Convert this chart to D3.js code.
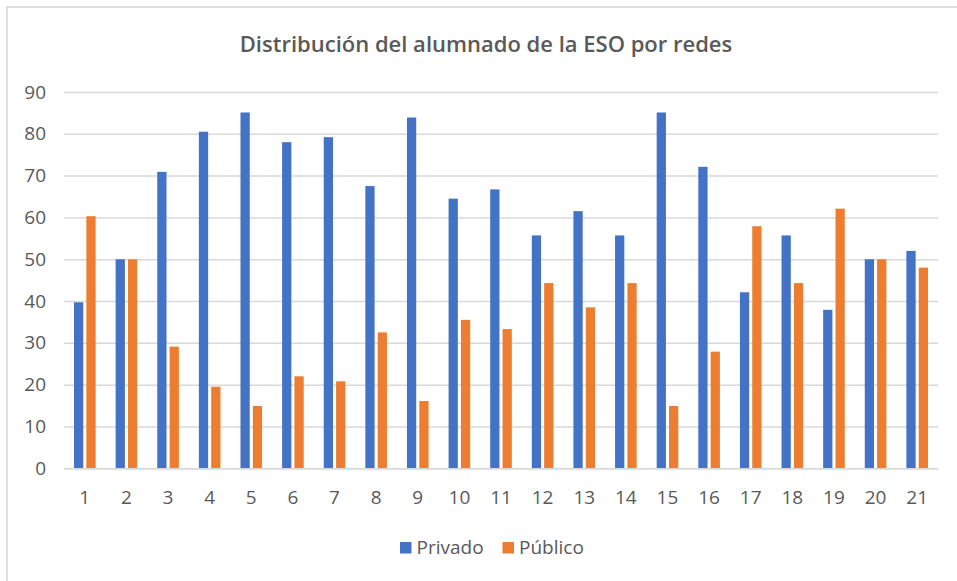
<!DOCTYPE html>
<html>
<head>
<meta charset="utf-8">
<script src="https://cdn.jsdelivr.net/npm/d3@7"></script>
<style>
  html, body { margin: 0; padding: 0; background: #ffffff; }
  svg { display: block; }
</style>
</head>
<body>
<svg id="chart" width="957" height="581"></svg>
<script>
const title = "Distribución del alumnado de la ESO por redes";
const categories = ["1","2","3","4","5","6","7","8","9","10","11","12","13","14","15","16","17","18","19","20","21"];
const seriesNames = ["Privado", "Público"];
const privado = [39.7, 50, 70.9, 80.5, 85.1, 78.0, 79.2, 67.5, 83.9, 64.5, 66.7, 55.7, 61.5, 55.7, 85.1, 72.1, 42.1, 55.7, 37.9, 50, 52.0];
const publico = [60.3, 50, 29.1, 19.5, 14.9, 22.0, 20.8, 32.5, 16.1, 35.5, 33.3, 44.3, 38.5, 44.3, 14.9, 27.9, 57.9, 44.3, 62.1, 50, 48.0];
const yTicks = [0, 10, 20, 30, 40, 50, 60, 70, 80, 90];
const colors = ["#4472C4", "#ED7D31"];

const svg = d3.select("#chart");
const font = "'Open Sans', 'Noto Sans', sans-serif";
const textColor = "#595959";

// outer chart border (only top/left visible in crop)
svg.append("rect")
  .attr("x", 7).attr("y", 7)
  .attr("width", 1200).attr("height", 1200)
  .attr("fill", "none").attr("stroke", "#d4d4d4").attr("stroke-width", 1.5);

const plot = { left: 64, right: 938, top: 92, bottom: 468.3 };

const x0 = d3.scaleBand().domain(categories).range([plot.left, plot.right]).paddingInner(0).paddingOuter(0);
const bw = x0.bandwidth();
const x1 = d3.scaleBand().domain(seriesNames).range([bw / 2 - 10.8, bw / 2 + 10.8]).paddingInner(0.25).paddingOuter(0);
const y = d3.scaleLinear().domain([0, 90]).range([plot.bottom, plot.top]);

// gridlines
const yAxis = d3.axisLeft(y).tickValues(yTicks).tickSize(-(plot.right - plot.left)).tickPadding(18).tickFormat(d3.format("d"));
const gy = svg.append("g").attr("transform", `translate(${plot.left},0)`).call(yAxis);
gy.select(".domain").remove();
gy.selectAll(".tick line").attr("stroke", "#d9d9d9").attr("stroke-width", 1.5);
gy.selectAll(".tick text").attr("fill", textColor).style("font-family", font).style("font-size", "19px");

// bars
const data = categories.map((c, i) => ({ cat: c, values: [privado[i], publico[i]] }));
const groups = svg.append("g").selectAll("g").data(data).join("g")
  .attr("transform", d => `translate(${x0(d.cat)},0)`);
groups.selectAll("rect").data(d => d.values.map((v, j) => ({ name: seriesNames[j], v, j })))
  .join("rect")
  .attr("x", d => x1(d.name))
  .attr("width", x1.bandwidth())
  .attr("y", d => y(d.v))
  .attr("height", d => y(0) - y(d.v))
  .attr("fill", d => colors[d.j]);

// x axis
const xAxis = d3.axisBottom(x0).tickSize(0).tickPadding(22);
const gx = svg.append("g").attr("transform", `translate(0,${plot.bottom})`).call(xAxis);
gx.select(".domain").attr("stroke", "#d9d9d9").attr("stroke-width", 1.5);
gx.selectAll(".tick text").attr("fill", textColor).style("font-family", font).style("font-size", "19px");

// title
svg.append("text")
  .attr("x", 486).attr("y", 52)
  .attr("text-anchor", "middle")
  .attr("fill", textColor)
  .style("font-family", font).style("font-size", "22px").style("font-weight", 600)
  .text(title);

// legend
const legendItems = [
  { name: seriesNames[0], color: colors[0], x: 400 },
  { name: seriesNames[1], color: colors[1], x: 502.5 }
];
const lg = svg.append("g");
legendItems.forEach(it => {
  lg.append("rect").attr("x", it.x).attr("y", 542).attr("width", 11.5).attr("height", 11.5).attr("fill", it.color);
  lg.append("text").attr("x", it.x + 16.5).attr("y", 554)
    .attr("fill", textColor)
    .style("font-family", font).style("font-size", "19px")
    .text(it.name);
});
</script>
</body>
</html>
